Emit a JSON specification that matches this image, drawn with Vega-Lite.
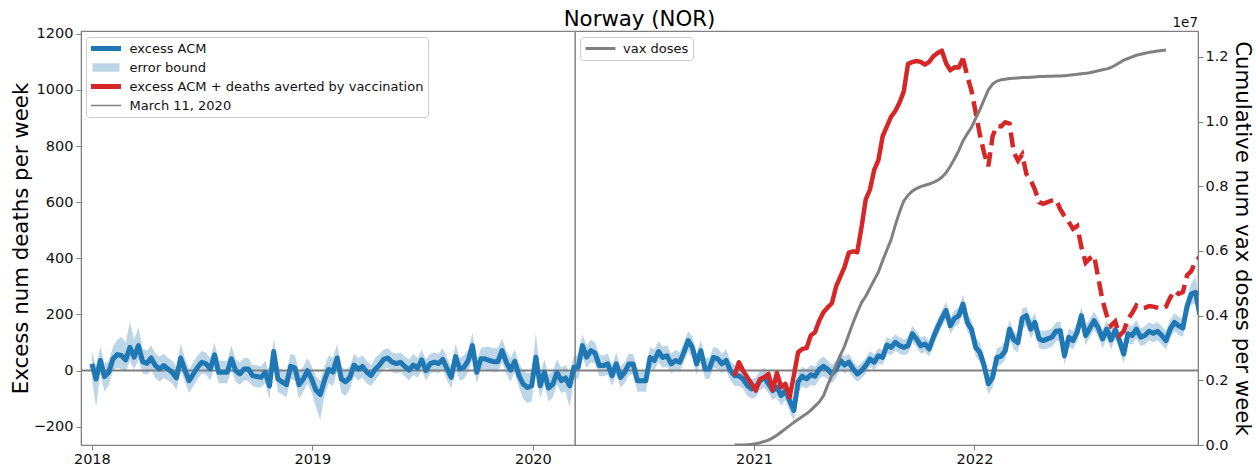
{
"$schema": "https://vega.github.io/schema/vega-lite/v6.json",
"width": 1117, "height": 414,
"autosize": {"type": "none"},
"padding": {"left": 81, "top": 31, "right": 58, "bottom": 20},
"background": "white",
"config": {
  "font": "DejaVu Sans",
  "view": {"stroke": "#808080", "strokeWidth": 1.2},
  "axis": {"labelFont": "DejaVu Sans", "titleFont": "DejaVu Sans", "labelFontSize": 14.5, "titleFontSize": 21.3, "titleFontWeight": "normal", "labelColor": "#111", "titleColor": "#000", "domainColor": "#808080", "tickColor": "#808080", "tickSize": 5, "grid": false, "labelPadding": 3}
},
"title": {"text": "Norway (NOR)", "fontSize": 21.3, "fontWeight": "normal", "font": "DejaVu Sans", "color": "#000", "anchor": "middle", "offset": -14},
"datasets": {"w": [
{"d":"2018-01-01","v":24,"lo":-30,"hi":70},
{"d":"2018-01-08","v":-30,"lo":-130,"hi":15},
{"d":"2018-01-15","v":36,"lo":-10,"hi":85},
{"d":"2018-01-22","v":-21,"lo":-75,"hi":25},
{"d":"2018-01-29","v":-6,"lo":-50,"hi":35},
{"d":"2018-02-05","v":42,"lo":0,"hi":85},
{"d":"2018-02-12","v":57,"lo":10,"hi":110},
{"d":"2018-02-19","v":54,"lo":5,"hi":120},
{"d":"2018-02-26","v":38,"lo":-5,"hi":100},
{"d":"2018-03-05","v":83,"lo":35,"hi":175},
{"d":"2018-03-12","v":48,"lo":5,"hi":110},
{"d":"2018-03-19","v":89,"lo":40,"hi":155},
{"d":"2018-03-26","v":32,"lo":-10,"hi":80},
{"d":"2018-04-02","v":26,"lo":-15,"hi":70},
{"d":"2018-04-09","v":45,"lo":0,"hi":90},
{"d":"2018-04-16","v":18,"lo":-25,"hi":60},
{"d":"2018-04-23","v":6,"lo":-40,"hi":50},
{"d":"2018-04-30","v":18,"lo":-25,"hi":60},
{"d":"2018-05-07","v":6,"lo":-35,"hi":45},
{"d":"2018-05-14","v":-6,"lo":-45,"hi":35},
{"d":"2018-05-21","v":-26,"lo":-70,"hi":15},
{"d":"2018-05-28","v":45,"lo":0,"hi":95},
{"d":"2018-06-04","v":2,"lo":-40,"hi":45},
{"d":"2018-06-11","v":-36,"lo":-80,"hi":5},
{"d":"2018-06-18","v":-12,"lo":-55,"hi":30},
{"d":"2018-06-25","v":12,"lo":-30,"hi":55},
{"d":"2018-07-02","v":30,"lo":-10,"hi":70},
{"d":"2018-07-09","v":24,"lo":-15,"hi":65},
{"d":"2018-07-16","v":6,"lo":-35,"hi":45},
{"d":"2018-07-23","v":56,"lo":10,"hi":100},
{"d":"2018-07-30","v":-6,"lo":-45,"hi":35},
{"d":"2018-08-06","v":-6,"lo":-45,"hi":35},
{"d":"2018-08-13","v":-6,"lo":-45,"hi":35},
{"d":"2018-08-20","v":42,"lo":0,"hi":90},
{"d":"2018-08-27","v":0,"lo":-40,"hi":40},
{"d":"2018-09-03","v":-12,"lo":-50,"hi":30},
{"d":"2018-09-10","v":6,"lo":-35,"hi":45},
{"d":"2018-09-17","v":6,"lo":-35,"hi":45},
{"d":"2018-09-24","v":-18,"lo":-55,"hi":20},
{"d":"2018-10-01","v":-21,"lo":-60,"hi":20},
{"d":"2018-10-08","v":-24,"lo":-60,"hi":15},
{"d":"2018-10-15","v":-6,"lo":-45,"hi":35},
{"d":"2018-10-22","v":-55,"lo":-100,"hi":-10},
{"d":"2018-10-29","v":68,"lo":20,"hi":115},
{"d":"2018-11-05","v":-30,"lo":-75,"hi":10},
{"d":"2018-11-12","v":-40,"lo":-85,"hi":5},
{"d":"2018-11-19","v":-50,"lo":-95,"hi":-5},
{"d":"2018-11-26","v":15,"lo":-30,"hi":60},
{"d":"2018-12-03","v":10,"lo":-35,"hi":55},
{"d":"2018-12-10","v":-50,"lo":-100,"hi":-5},
{"d":"2018-12-17","v":-30,"lo":-75,"hi":15},
{"d":"2018-12-24","v":0,"lo":-45,"hi":45},
{"d":"2018-12-31","v":-30,"lo":-80,"hi":15},
{"d":"2019-01-07","v":-70,"lo":-130,"hi":-20},
{"d":"2019-01-14","v":-85,"lo":-175,"hi":-35},
{"d":"2019-01-21","v":-35,"lo":-90,"hi":15},
{"d":"2019-01-28","v":5,"lo":-45,"hi":55},
{"d":"2019-02-04","v":-5,"lo":-55,"hi":45},
{"d":"2019-02-11","v":45,"lo":0,"hi":95},
{"d":"2019-02-18","v":-30,"lo":-80,"hi":15},
{"d":"2019-02-25","v":-40,"lo":-90,"hi":5},
{"d":"2019-03-04","v":-25,"lo":-65,"hi":15},
{"d":"2019-03-11","v":20,"lo":-20,"hi":60},
{"d":"2019-03-18","v":5,"lo":-35,"hi":45},
{"d":"2019-03-25","v":15,"lo":-25,"hi":55},
{"d":"2019-04-01","v":-5,"lo":-45,"hi":35},
{"d":"2019-04-08","v":-18,"lo":-55,"hi":20},
{"d":"2019-04-15","v":5,"lo":-35,"hi":45},
{"d":"2019-04-22","v":20,"lo":-15,"hi":60},
{"d":"2019-04-29","v":40,"lo":5,"hi":75},
{"d":"2019-05-06","v":45,"lo":10,"hi":80},
{"d":"2019-05-13","v":30,"lo":-5,"hi":65},
{"d":"2019-05-20","v":25,"lo":-10,"hi":60},
{"d":"2019-05-27","v":30,"lo":-5,"hi":65},
{"d":"2019-06-03","v":15,"lo":-20,"hi":50},
{"d":"2019-06-10","v":2,"lo":-35,"hi":40},
{"d":"2019-06-17","v":20,"lo":-15,"hi":60},
{"d":"2019-06-24","v":10,"lo":-25,"hi":45},
{"d":"2019-07-01","v":38,"lo":0,"hi":75},
{"d":"2019-07-08","v":0,"lo":-35,"hi":40},
{"d":"2019-07-15","v":25,"lo":-10,"hi":60},
{"d":"2019-07-22","v":30,"lo":-5,"hi":65},
{"d":"2019-07-29","v":25,"lo":-10,"hi":60},
{"d":"2019-08-05","v":40,"lo":5,"hi":80},
{"d":"2019-08-12","v":6,"lo":-35,"hi":45},
{"d":"2019-08-19","v":-24,"lo":-65,"hi":15},
{"d":"2019-08-26","v":50,"lo":10,"hi":95},
{"d":"2019-09-02","v":6,"lo":-35,"hi":45},
{"d":"2019-09-09","v":12,"lo":-30,"hi":55},
{"d":"2019-09-16","v":36,"lo":-5,"hi":75},
{"d":"2019-09-23","v":89,"lo":45,"hi":135},
{"d":"2019-09-30","v":-6,"lo":-45,"hi":35},
{"d":"2019-10-07","v":42,"lo":5,"hi":80},
{"d":"2019-10-14","v":42,"lo":5,"hi":85},
{"d":"2019-10-21","v":36,"lo":0,"hi":85},
{"d":"2019-10-28","v":32,"lo":-5,"hi":80},
{"d":"2019-11-04","v":32,"lo":-5,"hi":80},
{"d":"2019-11-11","v":71,"lo":30,"hi":115},
{"d":"2019-11-18","v":30,"lo":-10,"hi":70},
{"d":"2019-11-25","v":2,"lo":-40,"hi":45},
{"d":"2019-12-02","v":33,"lo":-5,"hi":75},
{"d":"2019-12-09","v":-18,"lo":-60,"hi":25},
{"d":"2019-12-16","v":-48,"lo":-100,"hi":0},
{"d":"2019-12-23","v":-60,"lo":-115,"hi":-10},
{"d":"2019-12-30","v":-54,"lo":-110,"hi":-5},
{"d":"2020-01-06","v":48,"lo":5,"hi":135},
{"d":"2020-01-13","v":-54,"lo":-100,"hi":-10},
{"d":"2020-01-20","v":-6,"lo":-50,"hi":40},
{"d":"2020-01-27","v":-62,"lo":-110,"hi":-15},
{"d":"2020-02-03","v":-48,"lo":-95,"hi":0},
{"d":"2020-02-10","v":-6,"lo":-50,"hi":40},
{"d":"2020-02-17","v":-36,"lo":-80,"hi":10},
{"d":"2020-02-24","v":-26,"lo":-75,"hi":20},
{"d":"2020-03-02","v":-54,"lo":-130,"hi":-5},
{"d":"2020-03-09","v":12,"lo":-30,"hi":55},
{"d":"2020-03-16","v":12,"lo":-30,"hi":55},
{"d":"2020-03-23","v":89,"lo":45,"hi":130},
{"d":"2020-03-30","v":48,"lo":10,"hi":90},
{"d":"2020-04-06","v":71,"lo":30,"hi":110},
{"d":"2020-04-13","v":62,"lo":25,"hi":100},
{"d":"2020-04-20","v":18,"lo":-20,"hi":55},
{"d":"2020-04-27","v":18,"lo":-20,"hi":55},
{"d":"2020-05-04","v":24,"lo":-15,"hi":60},
{"d":"2020-05-11","v":-18,"lo":-55,"hi":20},
{"d":"2020-05-18","v":24,"lo":-15,"hi":65},
{"d":"2020-05-25","v":-24,"lo":-60,"hi":15},
{"d":"2020-06-01","v":-6,"lo":-45,"hi":30},
{"d":"2020-06-08","v":24,"lo":-15,"hi":60},
{"d":"2020-06-15","v":24,"lo":-15,"hi":60},
{"d":"2020-06-22","v":-36,"lo":-75,"hi":0},
{"d":"2020-06-29","v":-36,"lo":-75,"hi":0},
{"d":"2020-07-06","v":-36,"lo":-75,"hi":0},
{"d":"2020-07-13","v":47,"lo":10,"hi":85},
{"d":"2020-07-20","v":36,"lo":0,"hi":75},
{"d":"2020-07-27","v":68,"lo":30,"hi":105},
{"d":"2020-08-03","v":47,"lo":10,"hi":85},
{"d":"2020-08-10","v":53,"lo":15,"hi":90},
{"d":"2020-08-17","v":24,"lo":-10,"hi":60},
{"d":"2020-08-24","v":36,"lo":0,"hi":75},
{"d":"2020-08-31","v":30,"lo":-5,"hi":65},
{"d":"2020-09-07","v":65,"lo":30,"hi":100},
{"d":"2020-09-14","v":107,"lo":70,"hi":140},
{"d":"2020-09-21","v":83,"lo":45,"hi":120},
{"d":"2020-09-28","v":24,"lo":-15,"hi":60},
{"d":"2020-10-05","v":71,"lo":35,"hi":110},
{"d":"2020-10-12","v":6,"lo":-30,"hi":45},
{"d":"2020-10-19","v":6,"lo":-30,"hi":45},
{"d":"2020-10-26","v":47,"lo":10,"hi":85},
{"d":"2020-11-02","v":42,"lo":5,"hi":80},
{"d":"2020-11-09","v":24,"lo":-10,"hi":60},
{"d":"2020-11-16","v":36,"lo":0,"hi":75},
{"d":"2020-11-23","v":0,"lo":-35,"hi":35},
{"d":"2020-11-30","v":-18,"lo":-55,"hi":20,"r":-18,"vax":0},
{"d":"2020-12-07","v":-18,"lo":-55,"hi":20,"r":30,"vax":0},
{"d":"2020-12-14","v":-30,"lo":-65,"hi":5,"r":0,"vax":0},
{"d":"2020-12-21","v":-53,"lo":-90,"hi":-15,"r":-24,"vax":10000},
{"d":"2020-12-28","v":-65,"lo":-100,"hi":-30,"r":-47,"vax":20000},
{"d":"2021-01-04","v":-59,"lo":-95,"hi":-25,"r":-71,"vax":40000},
{"d":"2021-01-11","v":-36,"lo":-70,"hi":0,"r":-30,"vax":70000},
{"d":"2021-01-18","v":-24,"lo":-60,"hi":10,"r":-24,"vax":110000},
{"d":"2021-01-25","v":-47,"lo":-80,"hi":-10,"r":-12,"vax":150000},
{"d":"2021-02-01","v":-71,"lo":-105,"hi":-35,"r":-70,"vax":220000},
{"d":"2021-02-08","v":-59,"lo":-95,"hi":-25,"r":-8,"vax":300000},
{"d":"2021-02-15","v":-89,"lo":-125,"hi":-55,"r":-59,"vax":400000},
{"d":"2021-02-22","v":-71,"lo":-105,"hi":-35,"r":-47,"vax":500000},
{"d":"2021-03-01","v":-107,"lo":-145,"hi":-70,"r":-95,"vax":600000},
{"d":"2021-03-08","v":-142,"lo":-180,"hi":-105,"r":-18,"vax":700000},
{"d":"2021-03-15","v":-40,"lo":-75,"hi":-5,"r":65,"vax":790000},
{"d":"2021-03-22","v":-20,"lo":-55,"hi":15,"r":77,"vax":880000},
{"d":"2021-03-29","v":-30,"lo":-65,"hi":5,"r":80,"vax":970000},
{"d":"2021-04-05","v":-15,"lo":-50,"hi":20,"r":125,"vax":1070000},
{"d":"2021-04-12","v":-20,"lo":-55,"hi":15,"r":137,"vax":1200000},
{"d":"2021-04-19","v":5,"lo":-30,"hi":40,"r":178,"vax":1330000},
{"d":"2021-04-26","v":15,"lo":-20,"hi":50,"r":208,"vax":1520000},
{"d":"2021-05-03","v":5,"lo":-30,"hi":35,"r":225,"vax":1850000},
{"d":"2021-05-10","v":-12,"lo":-45,"hi":20,"r":240,"vax":2150000},
{"d":"2021-05-17","v":6,"lo":-25,"hi":35,"r":300,"vax":2480000},
{"d":"2021-05-24","v":36,"lo":5,"hi":65,"r":335,"vax":2780000},
{"d":"2021-05-31","v":20,"lo":-10,"hi":50,"r":370,"vax":3060000},
{"d":"2021-06-07","v":30,"lo":0,"hi":60,"r":420,"vax":3420000},
{"d":"2021-06-14","v":6,"lo":-25,"hi":35,"r":425,"vax":3780000},
{"d":"2021-06-21","v":-12,"lo":-40,"hi":15,"r":422,"vax":4100000},
{"d":"2021-06-28","v":0,"lo":-28,"hi":28,"r":510,"vax":4400000},
{"d":"2021-07-05","v":18,"lo":-10,"hi":45,"r":610,"vax":4600000},
{"d":"2021-07-12","v":42,"lo":15,"hi":70,"r":645,"vax":4850000},
{"d":"2021-07-19","v":30,"lo":2,"hi":58,"r":715,"vax":5100000},
{"d":"2021-07-26","v":53,"lo":25,"hi":80,"r":750,"vax":5350000},
{"d":"2021-08-02","v":47,"lo":20,"hi":75,"r":835,"vax":5700000},
{"d":"2021-08-09","v":91,"lo":62,"hi":120,"r":870,"vax":6030000},
{"d":"2021-08-16","v":83,"lo":55,"hi":110,"r":905,"vax":6350000},
{"d":"2021-08-23","v":101,"lo":72,"hi":130,"r":925,"vax":6800000},
{"d":"2021-08-30","v":89,"lo":60,"hi":118,"r":955,"vax":7200000},
{"d":"2021-09-06","v":83,"lo":55,"hi":110,"r":995,"vax":7550000},
{"d":"2021-09-13","v":89,"lo":60,"hi":118,"r":1093,"vax":7720000},
{"d":"2021-09-20","v":131,"lo":102,"hi":160,"r":1099,"vax":7850000},
{"d":"2021-09-27","v":113,"lo":85,"hi":140,"r":1103,"vax":7930000},
{"d":"2021-10-04","v":89,"lo":60,"hi":118,"r":1100,"vax":7990000},
{"d":"2021-10-11","v":95,"lo":66,"hi":124,"r":1090,"vax":8030000},
{"d":"2021-10-18","v":77,"lo":50,"hi":105,"r":1100,"vax":8070000},
{"d":"2021-10-25","v":119,"lo":90,"hi":148,"r":1120,"vax":8120000},
{"d":"2021-11-01","v":154,"lo":125,"hi":183,"r":1132,"vax":8180000},
{"d":"2021-11-08","v":186,"lo":155,"hi":215,"r":1140,"vax":8280000},
{"d":"2021-11-15","v":214,"lo":185,"hi":245,"r":1095,"vax":8420000},
{"d":"2021-11-22","v":160,"lo":130,"hi":190,"r":1070,"vax":8620000},
{"d":"2021-11-29","v":186,"lo":155,"hi":215,"r":1081,"vax":8850000},
{"d":"2021-12-06","v":196,"lo":165,"hi":225,"r":1080,"vax":9100000},
{"d":"2021-12-13","v":237,"lo":205,"hi":270,"r":1112,"rd":1112,"vax":9400000},
{"d":"2021-12-20","v":172,"lo":140,"hi":205,"rd":1050,"vax":9620000},
{"d":"2021-12-27","v":148,"lo":115,"hi":180,"rd":998,"vax":9820000},
{"d":"2022-01-03","v":83,"lo":50,"hi":115,"rd":920,"vax":10100000},
{"d":"2022-01-10","v":65,"lo":30,"hi":100,"rd":840,"vax":10370000},
{"d":"2022-01-17","v":18,"lo":-15,"hi":50,"rd":775,"vax":10680000},
{"d":"2022-01-24","v":-47,"lo":-85,"hi":-10,"rd":728,"vax":10980000},
{"d":"2022-01-31","v":-24,"lo":-60,"hi":10,"rd":835,"vax":11160000},
{"d":"2022-02-07","v":47,"lo":15,"hi":80,"rd":872,"vax":11250000},
{"d":"2022-02-14","v":51,"lo":20,"hi":85,"rd":870,"vax":11290000},
{"d":"2022-02-21","v":71,"lo":40,"hi":105,"rd":885,"vax":11310000},
{"d":"2022-02-28","v":148,"lo":115,"hi":180,"rd":880,"vax":11330000},
{"d":"2022-03-07","v":110,"lo":75,"hi":140,"rd":778,"vax":11340000},
{"d":"2022-03-14","v":100,"lo":65,"hi":130,"rd":748,"vax":11350000},
{"d":"2022-03-21","v":187,"lo":150,"hi":220,"rd":770,"vax":11360000},
{"d":"2022-03-28","v":196,"lo":160,"hi":228,"rd":700,"vax":11360000},
{"d":"2022-04-04","v":148,"lo":115,"hi":180,"rd":680,"vax":11370000},
{"d":"2022-04-11","v":172,"lo":140,"hi":205,"rd":645,"vax":11380000},
{"d":"2022-04-18","v":113,"lo":80,"hi":145,"rd":600,"vax":11390000},
{"d":"2022-04-25","v":107,"lo":75,"hi":140,"rd":594,"vax":11390000},
{"d":"2022-05-02","v":113,"lo":80,"hi":145,"rd":600,"vax":11400000},
{"d":"2022-05-09","v":119,"lo":85,"hi":150,"rd":606,"vax":11400000},
{"d":"2022-05-16","v":140,"lo":105,"hi":172,"rd":610,"vax":11410000},
{"d":"2022-05-23","v":142,"lo":108,"hi":175,"rd":575,"vax":11410000},
{"d":"2022-05-30","v":53,"lo":20,"hi":85,"rd":550,"vax":11420000},
{"d":"2022-06-06","v":119,"lo":85,"hi":150,"rd":530,"vax":11430000},
{"d":"2022-06-13","v":107,"lo":75,"hi":140,"rd":505,"vax":11450000},
{"d":"2022-06-20","v":137,"lo":105,"hi":170,"rd":515,"vax":11460000},
{"d":"2022-06-27","v":196,"lo":160,"hi":228,"rd":440,"vax":11480000},
{"d":"2022-07-04","v":125,"lo":90,"hi":158,"rd":385,"vax":11490000},
{"d":"2022-07-11","v":152,"lo":120,"hi":185,"rd":400,"vax":11510000},
{"d":"2022-07-18","v":178,"lo":145,"hi":210,"rd":410,"vax":11540000},
{"d":"2022-07-25","v":152,"lo":120,"hi":185,"rd":330,"vax":11570000},
{"d":"2022-08-01","v":113,"lo":80,"hi":145,"rd":250,"vax":11600000},
{"d":"2022-08-08","v":148,"lo":115,"hi":180,"rd":196,"vax":11630000},
{"d":"2022-08-15","v":109,"lo":75,"hi":140,"rd":160,"vax":11670000},
{"d":"2022-08-22","v":145,"lo":112,"hi":178,"rd":175,"vax":11740000},
{"d":"2022-08-29","v":107,"lo":75,"hi":140,"rd":125,"vax":11820000},
{"d":"2022-09-05","v":59,"lo":25,"hi":92,"rd":140,"vax":11900000},
{"d":"2022-09-12","v":131,"lo":98,"hi":165,"rd":184,"vax":11950000},
{"d":"2022-09-19","v":125,"lo":92,"hi":158,"rd":205,"vax":12000000},
{"d":"2022-09-26","v":148,"lo":115,"hi":180,"rd":232,"vax":12050000},
{"d":"2022-10-03","v":119,"lo":88,"hi":150,"rd":222,"vax":12080000},
{"d":"2022-10-10","v":125,"lo":92,"hi":158,"rd":224,"vax":12110000},
{"d":"2022-10-17","v":140,"lo":108,"hi":172,"rd":230,"vax":12140000},
{"d":"2022-10-24","v":133,"lo":100,"hi":165,"rd":228,"vax":12160000},
{"d":"2022-10-31","v":140,"lo":108,"hi":172,"rd":224,"vax":12180000},
{"d":"2022-11-07","v":125,"lo":92,"hi":158,"rd":220,"vax":12200000},
{"d":"2022-11-14","v":107,"lo":75,"hi":140,"rd":228,"vax":12210000},
{"d":"2022-11-21","v":148,"lo":115,"hi":180,"rd":260},
{"d":"2022-11-28","v":172,"lo":140,"hi":205,"rd":285},
{"d":"2022-12-05","v":160,"lo":128,"hi":192,"rd":273},
{"d":"2022-12-12","v":152,"lo":120,"hi":185,"rd":280},
{"d":"2022-12-19","v":231,"lo":195,"hi":265,"rd":340},
{"d":"2022-12-26","v":273,"lo":235,"hi":310,"rd":355},
{"d":"2023-01-02","v":279,"lo":240,"hi":335,"rd":390},
{"d":"2023-01-09","v":200,"lo":160,"hi":240,"rd":405}
]},
"data": {"name": "w"},
"layer": [
  {
    "layer": [
      {
        "mark": {"type": "area", "clip": true, "opacity": 1},
        "encoding": {
          "x": {"field": "d", "type": "temporal",
                "scale": {"type": "utc", "domain": [{"year": 2017, "month": 12, "date": 14, "utc": true}, {"year": 2023, "month": 1, "date": 6, "utc": true}]},
                "axis": {"title": null, "format": "%Y", "formatType": "utc", "labelPadding": 2,
                         "values": [{"year": 2018, "month": 1, "date": 1, "utc": true}, {"year": 2019, "month": 1, "date": 1, "utc": true}, {"year": 2020, "month": 1, "date": 1, "utc": true}, {"year": 2021, "month": 1, "date": 1, "utc": true}, {"year": 2022, "month": 1, "date": 1, "utc": true}]}},
          "y": {"field": "lo", "type": "quantitative", "title": "Excess num deaths per week",
                "scale": {"domain": [-265, 1210], "nice": false, "zero": false},
                "axis": {"title": "Excess num deaths per week", "values": [-200, 0, 200, 400, 600, 800, 1000, 1200], "format": "d", "titlePadding": 2}},
          "y2": {"field": "hi"},
          "color": {"datum": "error bound", "type": "nominal",
                    "scale": {"domain": ["excess ACM", "error bound", "excess ACM + deaths averted by vaccination", "March 11, 2020"],
                              "range": ["#1f77b4", "#bcd6e8", "#d62728", "#808080"]},
                    "legend": {"orient": "none", "legendX": 5, "legendY": 6, "title": null,
                               "fillColor": "white", "strokeColor": "#cccccc", "cornerRadius": 3, "padding": 4,
                               "labelFont": "DejaVu Sans", "labelFontSize": 13, "labelColor": "#111", "labelLimit": 500,
                               "symbolSize": 900, "labelOffset": 17, "symbolOffset": 9.5, "rowPadding": 4, "clipHeight": 15,
                               "symbolType": {"expr": "datum.value === 'error bound' ? 'M-0.9,-0.28H0.9V0.28H-0.9Z' : 'stroke'"},
                               "symbolStrokeWidth": {"expr": "datum.value === 'error bound' ? 0 : datum.value === 'March 11, 2020' ? 1.5 : 5"}}}
        }
      },
      {
        "data": {"values": [{}]},
        "mark": {"type": "rule", "color": "#808080", "strokeWidth": 2},
        "encoding": {"y": {"datum": 0, "type": "quantitative", "title": "Excess num deaths per week"}}
      },
      {
        "data": {"values": [{}]},
        "mark": {"type": "rule", "strokeWidth": 1.5},
        "encoding": {"x": {"datum": {"year": 2020, "month": 3, "date": 11, "utc": true}, "type": "temporal"},
                     "color": {"datum": "March 11, 2020", "type": "nominal"}}
      },
      {
        "mark": {"type": "line", "strokeWidth": 5, "clip": true, "strokeJoin": "round"},
        "encoding": {"x": {"field": "d", "type": "temporal"},
                     "y": {"field": "v", "type": "quantitative", "title": "Excess num deaths per week"},
                     "color": {"datum": "excess ACM", "type": "nominal"}}
      },
      {
        "mark": {"type": "line", "strokeWidth": 4.5, "clip": true, "strokeJoin": "round"},
        "encoding": {"x": {"field": "d", "type": "temporal"},
                     "y": {"field": "r", "type": "quantitative", "title": "Excess num deaths per week"},
                     "color": {"datum": "excess ACM + deaths averted by vaccination", "type": "nominal"}}
      },
      {
        "mark": {"type": "line", "strokeWidth": 4.5, "clip": true, "strokeDash": [15, 7]},
        "encoding": {"x": {"field": "d", "type": "temporal"},
                     "y": {"field": "rd", "type": "quantitative", "title": "Excess num deaths per week"},
                     "color": {"datum": "excess ACM + deaths averted by vaccination", "type": "nominal"}}
      }
    ]
  },
  {
    "layer": [
      {
        "mark": {"type": "line", "strokeWidth": 3, "clip": true, "strokeJoin": "round"},
        "encoding": {"x": {"field": "d", "type": "temporal"},
                     "y": {"field": "vax", "type": "quantitative", "title": "Cumulative num vax doses per week",
                           "scale": {"domain": [0, 12800000], "nice": false},
                           "axis": {"orient": "right", "title": "Cumulative num vax doses per week", "values": [0, 2000000, 4000000, 6000000, 8000000, 10000000, 12000000], "labelExpr": "format(datum.value / 10000000, '.1f')", "titlePadding": 3, "labelPadding": 2}},
                     "color": {"datum": "vax doses", "type": "nominal",
                               "scale": {"domain": ["vax doses"], "range": ["#808080"]},
                               "legend": {"orient": "none", "legendX": 499, "legendY": 6, "title": null,
                                          "fillColor": "white", "strokeColor": "#cccccc", "cornerRadius": 3, "padding": 4,
                                          "labelFont": "DejaVu Sans", "labelFontSize": 13, "labelColor": "#111",
                                          "symbolType": "stroke", "symbolSize": 900, "symbolStrokeWidth": 3, "labelOffset": 6, "clipHeight": 15}}}
      },
      {
        "data": {"values": [{}]},
        "mark": {"type": "text", "align": "right", "baseline": "bottom", "dy": -1, "fontSize": 13.5, "font": "DejaVu Sans", "color": "#111"},
        "encoding": {"x": {"datum": {"year": 2023, "month": 1, "date": 6, "utc": true}, "type": "temporal"},
                     "y": {"datum": 12800000, "type": "quantitative", "title": "Cumulative num vax doses per week"},
                     "text": {"value": "1e7"}}
      }
    ]
  }
],
"resolve": {"scale": {"y": "independent", "color": "independent"}}
}
